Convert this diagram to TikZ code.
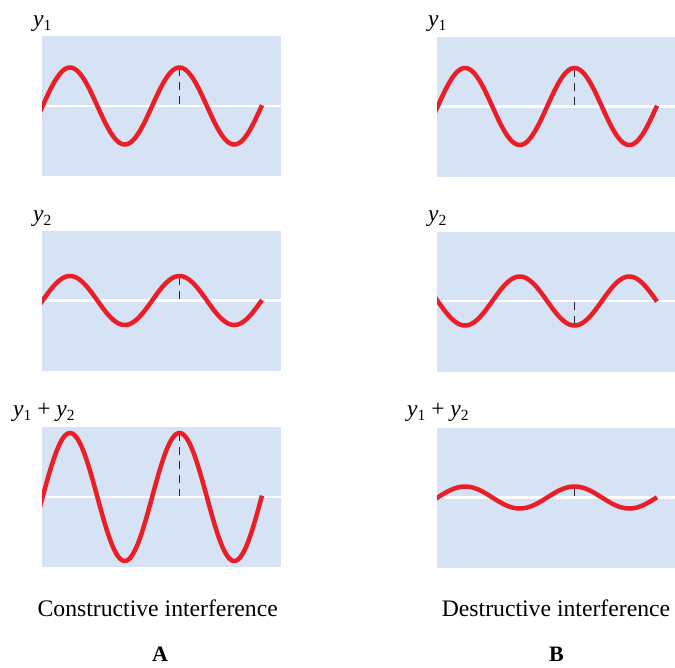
\documentclass[tikz,border=0pt]{standalone}
\usepackage{fontspec}
\setmainfont{Liberation Serif}
\definecolor{panelblue}{RGB}{213,227,244}
\definecolor{wavered}{RGB}{235,30,40}
\newcommand\yvar[1]{\textit{y}\raisebox{-4pt}{\fontsize{15.5}{15.5}\selectfont #1}}
\tikzset{
  panelfill/.style={fill=panelblue},
  axisline/.style={draw=white, line width=2.5pt},
  wave/.style={draw=wavered, line width=4.5pt},
  dashline/.style={draw=black!85, line width=1pt, dash pattern=on 8pt off 6pt},
  lbl/.style={inner sep=0pt, anchor=base west, font=\fontsize{23.5}{26}\selectfont},
  captext/.style={inner sep=0pt, anchor=base, font=\fontsize{23.7}{27}\selectfont},
}
\begin{document}
\begin{tikzpicture}[x=1pt,y=-1pt]
\useasboundingbox (0,0) rectangle (675,667);

% ---------- Left column (A) ----------
% panel 1: y1
\fill[panelfill] (42,36) rectangle (281,176);
\draw[axisline] (42,106) -- (281,106);
\draw[dashline] (179.5,68) -- (179.5,105);
\begin{scope}
\clip (42,36) rectangle (281,176);
\draw[wave] plot[domain=36:262, samples=140, smooth] (\x, {106 - 38.5*cos((\x-70)/109.5*360)});
\end{scope}
\node[lbl] (yA1) at (33,26.5) {\yvar{1}};

% panel 2: y2
\fill[panelfill] (42,231) rectangle (281,371);
\draw[axisline] (42,300.5) -- (281,300.5);
\draw[dashline] (179.5,277) -- (179.5,300);
\begin{scope}
\clip (42,231) rectangle (281,371);
\draw[wave] plot[domain=36:262, samples=140, smooth] (\x, {300.5 - 24.5*cos((\x-70)/109.5*360)});
\end{scope}
\node[lbl] (yA2) at (33,221) {\yvar{2}};

% panel 3: y1 + y2
\fill[panelfill] (42,427) rectangle (281,567);
\draw[axisline] (42,497) -- (281,497);
\draw[dashline] (179.5,433) -- (179.5,496);
\begin{scope}
\clip (42,427) rectangle (281,567);
\draw[wave] plot[domain=36:262, samples=160, smooth] (\x, {497 - 64*cos((\x-70)/109.5*360)});
\end{scope}
\node[lbl] (yA3) at (13,416.5) {\yvar{1} + \yvar{2}};

% ---------- Right column (B) ----------
% panel 1: y1
\fill[panelfill] (437,37) rectangle (676,177);
\draw[axisline] (437,106.5) -- (676,106.5);
\draw[dashline] (574.5,68.5) -- (574.5,105.5);
\begin{scope}
\clip (437,37) rectangle (676,177);
\draw[wave] plot[domain=431:657, samples=140, smooth] (\x, {106.5 - 38.5*cos((\x-465)/109.5*360)});
\end{scope}
\node[lbl] (yB1) at (428,26.5) {\yvar{1}};

% panel 2: y2 (inverted)
\fill[panelfill] (437,232) rectangle (676,372);
\draw[axisline] (437,301) -- (676,301);
\draw[dashline] (574.5,302) -- (574.5,324);
\begin{scope}
\clip (437,232) rectangle (676,372);
\draw[wave] plot[domain=431:657, samples=140, smooth] (\x, {301 + 24.5*cos((\x-465)/109.5*360)});
\end{scope}
\node[lbl] (yB2) at (428,221.5) {\yvar{2}};

% panel 3: y1 + y2 (small)
\fill[panelfill] (437,428) rectangle (676,568);
\draw[axisline] (437,497.5) -- (676,497.5);
\draw[dashline] (574.5,488) -- (574.5,496.5);
\begin{scope}
\clip (437,428) rectangle (676,568);
\draw[wave] plot[domain=431:657, samples=140, smooth] (\x, {497.5 - 11*cos((\x-465)/109.5*360)});
\end{scope}
\node[lbl] (yB3) at (407,416.5) {\yvar{1} + \yvar{2}};

% ---------- Captions ----------
\node[captext] (capA) at (157.7,616.7) {Constructive interference};
\node[captext] (capB) at (556,616.7) {Destructive interference};
\node[captext, font=\fontsize{22}{26}\selectfont\bfseries] (A) at (160,661.5) {A};
\node[captext, font=\fontsize{22}{26}\selectfont\bfseries] (B) at (556.5,661.5) {B};
\end{tikzpicture}
\end{document}
